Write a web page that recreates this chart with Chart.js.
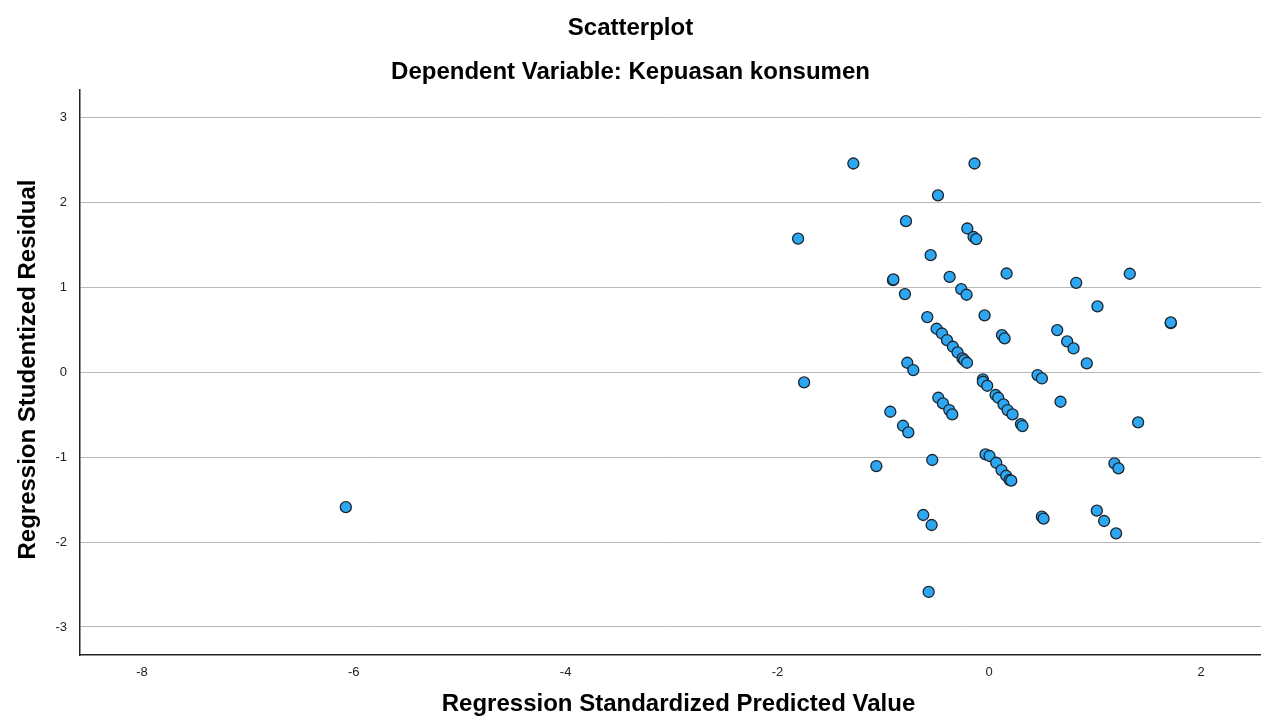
<!DOCTYPE html>
<html lang="en">
<head>
    <meta charset="UTF-8">
    <title>Scatterplot</title>
    <script src="https://cdn.jsdelivr.net/npm/chart.js"></script>
    <style>
        html, body { margin: 0; padding: 0; background: #fff; }
        canvas { display: block; }
    </style>
</head>
<body>
    <canvas id="scatter" width="1261" height="728"></canvas>

    <script>
        // values
        const predictedValues = [
            -6.075, -1.805, -1.283, -1.748, -0.139, -0.484, -0.786, -0.207, -0.148, -0.123,
            -0.553, -0.909, -0.905, -0.374, 0.164, -0.796, -0.264, -0.214, -0.044, -0.585,
            -0.497, -0.446, -0.399, -0.343, -0.299, -0.252, -0.236, -0.210, 0.120, 0.145,
            -0.774, -0.717, -0.060, 0.821, 1.327, 1.022, 1.714, 1.714, 0.642, 0.736,
            0.796, 0.921, 0.456, 0.497, -0.934, -0.814, -0.764, -1.066, -0.538, -0.623,
            -0.544, -0.572, -0.481, -0.437, -0.377, -0.349, -0.060, -0.019, 0.060, 0.085,
            0.135, 0.173, 0.220, 0.299, 0.314, -0.035, 0.003, 0.066, 0.116, 0.160,
            0.192, 0.208, 0.673, 1.406, 1.182, 1.220, 0.497, 0.513, 1.016, 1.085,
            1.198
        ];
        const studentizedResiduals = [
            -1.590, 1.570, 2.455, -0.122, 2.455, 2.080, 1.776, 1.690, 1.590, 1.565,
            1.376, 1.082, 1.090, 1.120, 1.160, 0.918, 0.976, 0.910, 0.667, 0.647,
            0.510, 0.454, 0.376, 0.298, 0.231, 0.161, 0.141, 0.110, 0.435, 0.396,
            0.110, 0.024, -0.086, 1.051, 1.157, 0.773, 0.576, 0.584, 0.494, 0.361,
            0.278, 0.102, -0.035, -0.075, -0.467, -0.632, -0.710, -1.106, -1.035, -1.682,
            -1.800, -2.588, -0.302, -0.369, -0.447, -0.498, -0.114, -0.161, -0.270, -0.302,
            -0.380, -0.447, -0.498, -0.612, -0.635, -0.969, -0.988, -1.067, -1.153, -1.220,
            -1.270, -1.278, -0.349, -0.592, -1.075, -1.133, -1.702, -1.725, -1.631, -1.753,
            -1.898
        ];
        const xTicks = [-8, -6, -4, -2, 0, 2];
        const yTicks = [-3, -2, -1, 0, 1, 2, 3];

        const chartTitle = 'Scatterplot';
        const chartSubtitle = 'Dependent Variable: Kepuasan konsumen';
        const xTitle = 'Regression Standardized Predicted Value';
        const yTitle = 'Regression Studentized Residual';

        const points = predictedValues.map((x, i) => ({ x: x, y: studentizedResiduals[i] }));

        const FONT = '"Liberation Sans", Arial, sans-serif';

        // titles drawn by hand so they land where SPSS puts them
        const titlesPlugin = {
            id: 'titles',
            afterDraw(chart) {
                const ctx = chart.ctx;
                const area = chart.chartArea;
                ctx.save();
                ctx.fillStyle = '#000';
                ctx.font = 'bold 24px ' + FONT;
                ctx.textAlign = 'center';
                ctx.textBaseline = 'middle';
                ctx.fillText(chartTitle, chart.width / 2, 28);
                ctx.fillText(chartSubtitle, chart.width / 2, 72);
                ctx.fillText(xTitle, (area.left + area.right) / 2 + 8, 704);

                ctx.translate(35, (area.top + area.bottom) / 2 - 3);
                ctx.rotate(-Math.PI / 2);
                ctx.textBaseline = 'alphabetic';
                ctx.fillText(yTitle, 0, 0);
                ctx.restore();
            }
        };

        // no extra room for edge labels, the plot runs to the window edge
        function noPadding(scale) {
            scale.paddingLeft = 0;
            scale.paddingRight = 0;
            scale.paddingTop = 0;
            scale.paddingBottom = 0;
        }

        new Chart(document.getElementById('scatter'), {
            type: 'scatter',
            data: {
                datasets: [{
                    data: points,
                    pointRadius: 5.5,
                    pointHoverRadius: 5.5,
                    pointBackgroundColor: '#2ea7f2',
                    pointBorderColor: '#1c252d',
                    pointBorderWidth: 1.3
                }]
            },
            options: {
                responsive: false,
                animation: false,
                devicePixelRatio: 1,
                layout: {
                    autoPadding: false,
                    padding: { top: 90, right: 0, left: 0, bottom: 0 }
                },
                plugins: {
                    legend: { display: false },
                    tooltip: { enabled: false }
                },
                scales: {
                    x: {
                        type: 'linear',
                        min: -8.585,
                        max: 2.566,
                        afterBuildTicks: scale => { scale.ticks = xTicks.map(v => ({ value: v })); },
                        afterFit: scale => { scale.height = 73; noPadding(scale); },
                        grid: { display: false, drawTicks: false },
                        border: { display: true, color: '#222', width: 1.5 },
                        ticks: {
                            color: '#222',
                            padding: 10,
                            maxRotation: 0,
                            font: { family: FONT, size: 13 }
                        }
                    },
                    y: {
                        type: 'linear',
                        min: -3.33,
                        max: 3.32,
                        afterBuildTicks: scale => { scale.ticks = yTicks.map(v => ({ value: v })); },
                        afterFit: scale => { scale.width = 80; noPadding(scale); },
                        grid: { color: '#b8b8b8', lineWidth: 1, drawTicks: false },
                        border: { display: true, color: '#222', width: 1.5 },
                        ticks: {
                            color: '#222',
                            padding: 13,
                            font: { family: FONT, size: 13 }
                        }
                    }
                }
            },
            plugins: [titlesPlugin]
        });
    </script>
</body>
</html>
